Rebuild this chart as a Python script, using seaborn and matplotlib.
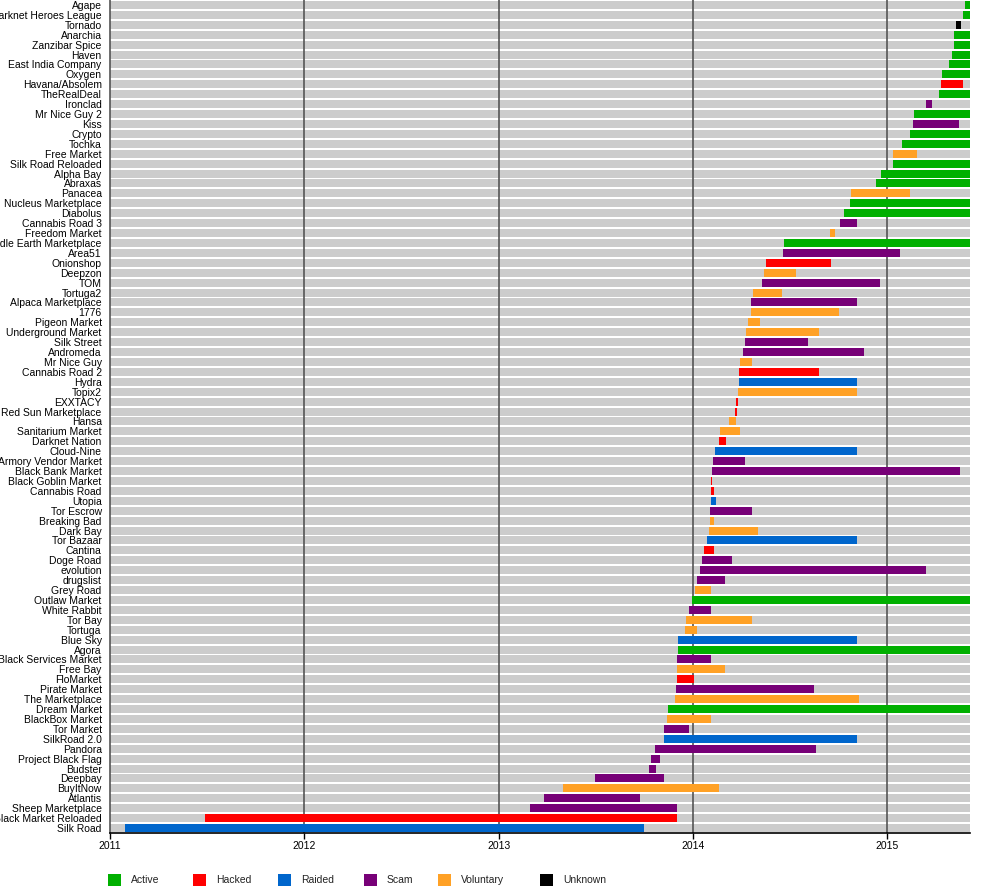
import matplotlib
matplotlib.use("Agg")
import matplotlib.pyplot as plt
from matplotlib.patches import Rectangle
import seaborn as sns
import pandas as pd

# ---------------- data ----------------
END_DATE = 2015.425  # last day covered by the chart

markets = [
    "Agape", "Darknet Heroes League", "Tornado", "Anarchia", "Zanzibar Spice",
    "Haven", "East India Company", "Oxygen", "Havana/Absolem", "TheRealDeal",
    "Ironclad", "Mr Nice Guy 2", "Kiss", "Crypto", "Tochka", "Free Market",
    "Silk Road Reloaded", "Alpha Bay", "Abraxas", "Panacea", "Nucleus Marketplace",
    "Diabolus", "Cannabis Road 3", "Freedom Market", "Middle Earth Marketplace",
    "Area51", "Onionshop", "Deepzon", "TOM", "Tortuga2", "Alpaca Marketplace",
    "1776", "Pigeon Market", "Underground Market", "Silk Street", "Andromeda",
    "Mr Nice Guy", "Cannabis Road 2", "Hydra", "Topix2", "EXXTACY",
    "Red Sun Marketplace", "Hansa", "Sanitarium Market", "Darknet Nation",
    "Cloud-Nine", "Armory Vendor Market", "Black Bank Market", "Black Goblin Market",
    "Cannabis Road", "Utopia", "Tor Escrow", "Breaking Bad", "Dark Bay",
    "Tor Bazaar", "Cantina", "Doge Road", "evolution", "drugslist", "Grey Road",
    "Outlaw Market", "White Rabbit", "Tor Bay", "Tortuga", "Blue Sky", "Agora",
    "Black Services Market", "Free Bay", "FloMarket", "Pirate Market",
    "The Marketplace", "Dream Market", "BlackBox Market", "Tor Market",
    "SilkRoad 2.0", "Pandora", "Project Black Flag", "Budster", "Deepbay",
    "BuyItNow", "Atlantis", "Sheep Marketplace", "Black Market Reloaded", "Silk Road",
]

starts = [
    2015.400, 2015.390, 2015.352, 2015.342, 2015.342,
    2015.332, 2015.316, 2015.280, 2015.275, 2015.265,
    2015.198, 2015.137, 2015.132, 2015.116, 2015.075, 2015.029,
    2015.029, 2014.968, 2014.942, 2014.814, 2014.808,
    2014.777, 2014.757, 2014.706, 2014.470,
    2014.465, 2014.373, 2014.363, 2014.353, 2014.306, 2014.296,
    2014.296, 2014.281, 2014.270, 2014.265, 2014.255,
    2014.240, 2014.235, 2014.235, 2014.230, 2014.220,
    2014.214, 2014.183, 2014.137, 2014.132,
    2014.111, 2014.101, 2014.096, 2014.090,
    2014.090, 2014.090, 2014.085, 2014.085, 2014.080,
    2014.070, 2014.055, 2014.045, 2014.034, 2014.019, 2014.009,
    2013.994, 2013.978, 2013.963, 2013.958, 2013.922, 2013.922,
    2013.917, 2013.917, 2013.917, 2013.912,
    2013.907, 2013.871, 2013.866, 2013.850,
    2013.850, 2013.804, 2013.784, 2013.773, 2013.496,
    2013.332, 2013.234, 2013.160, 2011.490, 2011.076,
]

# None = still active at END_DATE
ends = [
    None, None, 2015.378, None, None,
    None, None, None, 2015.388, None,
    2015.229, None, 2015.368, None, None, 2015.152,
    None, None, None, 2015.116, None,
    None, 2014.844, 2014.732, None,
    2015.065, 2014.711, 2014.532, 2014.963, 2014.460, 2014.844,
    2014.752, 2014.347, 2014.650, 2014.594, 2014.881,
    2014.301, 2014.650, 2014.844, 2014.844, 2014.230,
    2014.224, 2014.219, 2014.240, 2014.168,
    2014.844, 2014.265, 2015.373, 2014.096,
    2014.106, 2014.116, 2014.301, 2014.106, 2014.332,
    2014.844, 2014.106, 2014.199, 2015.198, 2014.163, 2014.090,
    None, 2014.090, 2014.301, 2014.019, 2014.844, None,
    2014.090, 2014.163, 2014.004, 2014.624,
    2014.855, None, 2014.090, 2013.978,
    2014.844, 2014.634, 2013.830, 2013.809, 2013.850,
    2014.132, 2013.727, 2013.917, 2013.915, 2013.750,
]

status = [
    "Active", "Active", "Unknown", "Active", "Active",
    "Active", "Active", "Active", "Hacked", "Active",
    "Scam", "Active", "Scam", "Active", "Active", "Voluntary",
    "Active", "Active", "Active", "Voluntary", "Active",
    "Active", "Scam", "Voluntary", "Active",
    "Scam", "Hacked", "Voluntary", "Scam", "Voluntary", "Scam",
    "Voluntary", "Voluntary", "Voluntary", "Scam", "Scam",
    "Voluntary", "Hacked", "Raided", "Voluntary", "Hacked",
    "Hacked", "Voluntary", "Voluntary", "Hacked",
    "Raided", "Scam", "Scam", "Hacked",
    "Hacked", "Raided", "Scam", "Voluntary", "Voluntary",
    "Raided", "Hacked", "Scam", "Scam", "Scam", "Voluntary",
    "Active", "Scam", "Voluntary", "Voluntary", "Raided", "Active",
    "Scam", "Voluntary", "Hacked", "Scam",
    "Voluntary", "Active", "Voluntary", "Scam",
    "Raided", "Scam", "Scam", "Scam", "Scam",
    "Voluntary", "Scam", "Scam", "Hacked", "Raided",
]

categories = ["Active", "Hacked", "Raided", "Scam", "Voluntary", "Unknown"]
years = [2011, 2012, 2013, 2014, 2015]

# ---------------- styles ----------------
palette = {
    "Active": "#00B000",
    "Hacked": "#FF0000",
    "Raided": "#0066CC",
    "Scam": "#770077",
    "Voluntary": "#FFA126",
    "Unknown": "#000000",
}
BG_GRAY = "#CCCCCC"
GRID = "#555555"

sns.set_theme(style="white")
plt.rcParams["font.family"] = ["Liberation Sans", "DejaVu Sans"]

df = pd.DataFrame({
    "market": markets,
    "start": starts,
    "end": [END_DATE if e is None else e for e in ends],
    "status": status,
})
df["span"] = df["end"] - df["start"]
df["window"] = END_DATE

W, H = 1000, 890
fig = plt.figure(figsize=(W / 100, H / 100), dpi=100)
ax_bottom_px = 833
ax = fig.add_axes([110 / W, 1 - ax_bottom_px / H, 860 / W, ax_bottom_px / H])

# gray background row for each market
sns.barplot(data=df, x="window", y="market", color=BG_GRAY, saturation=1,
            width=0.8, linewidth=0, orient="h", ax=ax, zorder=1)

# year lines
ax.vlines(years[1:], -0.5, len(df) - 0.5, color=GRID, linewidth=1.2, zorder=2)

# lifetime bars
ax.barh(range(len(df)), df["span"], left=df["start"], height=0.8,
        color=[palette[s] for s in df["status"]], linewidth=0, zorder=3)

ax.set_xlim(2011, END_DATE)
ax.set_ylim(len(df) - 0.5, -0.5)
ax.set_xticks(years)
ax.set_xticklabels([str(y) for y in years])
ax.set_xlabel("")
ax.set_ylabel("")

for side in ["top", "right"]:
    ax.spines[side].set_visible(False)
ax.spines["left"].set_color(GRID)
ax.spines["left"].set_linewidth(1.2)
ax.spines["bottom"].set_color("black")
ax.spines["bottom"].set_linewidth(1.2)
ax.spines["bottom"].set_zorder(5)

ax.tick_params(axis="y", length=0, pad=6, labelsize=7.5, labelcolor="black")
ax.tick_params(axis="x", direction="out", length=4, width=1, color="black",
               pad=1.5, labelsize=7.5, labelcolor="black", bottom=True)

# legend (manual layout to match reference)
legend_x = [108, 193, 278, 364, 438, 540]
sq = 12.5
ly = 880
for cat, lx in zip(categories, legend_x):
    fig.patches.append(Rectangle((lx / W, 1 - (ly + sq / 2) / H), sq / W, sq / H,
                                 transform=fig.transFigure, facecolor=palette[cat],
                                 edgecolor="none"))
    fig.text((lx + 23) / W, 1 - ly / H, cat, fontsize=7.5, va="center", ha="left",
             color="#222222")

fig.savefig("out.png", dpi=100)
